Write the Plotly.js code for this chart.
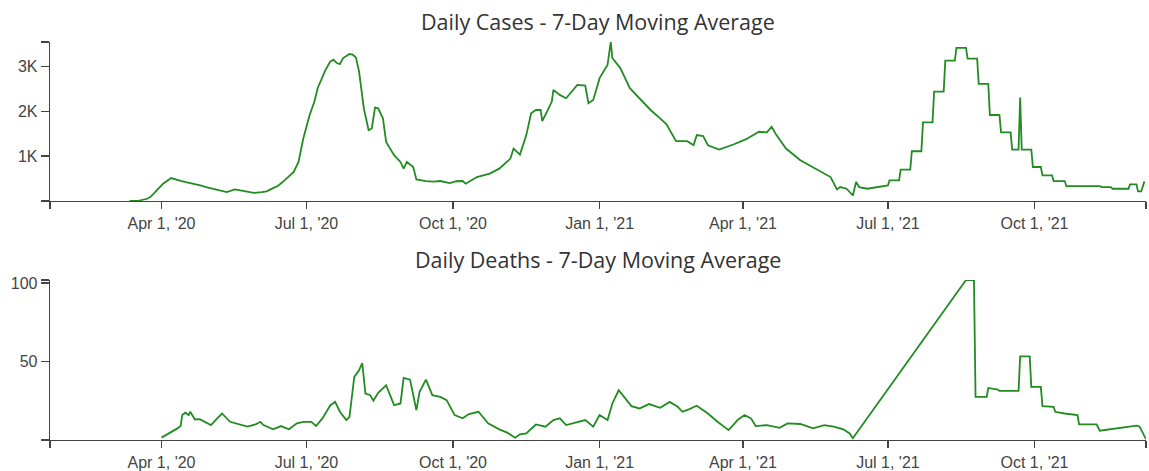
<!DOCTYPE html>
<html><head><meta charset="utf-8">
<script src="https://cdn.plot.ly/plotly-3.0.1.min.js"></script>
<style>html,body{margin:0;padding:0;background:#fff}#chart{width:1149px;height:471px}</style>
</head><body><div id="chart"></div>
<script>
const caseDates = ['2020-03-12','2020-03-18','2020-03-23','2020-03-25','2020-03-29','2020-04-02','2020-04-07','2020-04-10','2020-04-13','2020-04-17','2020-04-20','2020-04-23','2020-04-26','2020-04-29','2020-05-02','2020-05-06','2020-05-09','2020-05-12','2020-05-17','2020-05-22','2020-05-25','2020-05-29','2020-06-03','2020-06-06','2020-06-10','2020-06-13','2020-06-16','2020-06-19','2020-06-23','2020-06-26','2020-06-29','2020-07-03','2020-07-06','2020-07-08','2020-07-13','2020-07-16','2020-07-18','2020-07-20','2020-07-22','2020-07-24','2020-07-28','2020-07-30','2020-08-01','2020-08-03','2020-08-06','2020-08-09','2020-08-11','2020-08-13','2020-08-15','2020-08-18','2020-08-20','2020-08-25','2020-08-29','2020-08-31','2020-09-02','2020-09-06','2020-09-08','2020-09-14','2020-09-19','2020-09-23','2020-09-29','2020-10-03','2020-10-07','2020-10-09','2020-10-16','2020-10-24','2020-10-30','2020-11-06','2020-11-08','2020-11-12','2020-11-16','2020-11-19','2020-11-22','2020-11-25','2020-11-26','2020-11-29','2020-12-02','2020-12-03','2020-12-07','2020-12-11','2020-12-18','2020-12-23','2020-12-25','2020-12-28','2021-01-01','2021-01-06','2021-01-08','2021-01-09','2021-01-14','2021-01-20','2021-01-27','2021-02-02','2021-02-08','2021-02-12','2021-02-18','2021-02-25','2021-03-01','2021-03-03','2021-03-07','2021-03-10','2021-03-17','2021-03-26','2021-04-03','2021-04-11','2021-04-16','2021-04-19','2021-04-22','2021-04-28','2021-05-07','2021-05-15','2021-05-21','2021-05-26','2021-05-30','2021-06-01','2021-06-05','2021-06-09','2021-06-11','2021-06-13','2021-06-18','2021-06-25','2021-07-01','2021-07-02','2021-07-08','2021-07-09','2021-07-15','2021-07-16','2021-07-22','2021-07-23','2021-07-29','2021-07-30','2021-08-05','2021-08-06','2021-08-12','2021-08-13','2021-08-19','2021-08-20','2021-08-26','2021-08-27','2021-09-02','2021-09-03','2021-09-09','2021-09-10','2021-09-16','2021-09-17','2021-09-21','2021-09-22','2021-09-23','2021-09-29','2021-09-30','2021-10-05','2021-10-06','2021-10-12','2021-10-13','2021-10-20','2021-10-21','2021-11-11','2021-11-12','2021-11-18','2021-11-19','2021-11-29','2021-11-30','2021-12-04','2021-12-05','2021-12-07','2021-12-09'];
const caseValues = [0,10,50,86,235,385,512,474,450,415,395,370,340,310,285,258,240,198,258,220,200,183,198,215,288,335,422,520,646,870,1393,1916,2215,2514,2925,3111,3149,3074,3051,3186,3275,3260,3200,2887,2065,1580,1617,2080,2065,1841,1318,1020,870,721,870,758,482,445,430,445,400,440,445,385,534,609,721,945,1169,1035,1468,1953,2028,2028,1782,1991,2215,2476,2364,2290,2588,2573,2178,2252,2738,3036,3543,3186,2962,2514,2252,2028,1841,1707,1333,1333,1243,1468,1445,1243,1147,1259,1378,1543,1528,1655,1468,1169,908,758,646,534,258,310,273,123,422,310,273,310,347,459,459,698,698,1109,1109,1752,1752,2439,2439,3126,3126,3410,3410,3171,3171,2611,2611,1916,1916,1528,1528,1147,1147,2304,1147,1147,758,758,571,571,445,445,332,332,310,310,273,273,370,370,213,213,437];

const deathDates = ['2020-04-01','2020-04-06','2020-04-11','2020-04-13','2020-04-14','2020-04-16','2020-04-18','2020-04-19','2020-04-22','2020-04-25','2020-04-28','2020-05-02','2020-05-06','2020-05-09','2020-05-14','2020-05-20','2020-05-25','2020-05-30','2020-06-02','2020-06-04','2020-06-10','2020-06-15','2020-06-20','2020-06-25','2020-06-29','2020-07-04','2020-07-07','2020-07-11','2020-07-16','2020-07-19','2020-07-22','2020-07-26','2020-07-28','2020-07-31','2020-08-03','2020-08-05','2020-08-07','2020-08-10','2020-08-12','2020-08-15','2020-08-20','2020-08-25','2020-08-29','2020-08-31','2020-09-04','2020-09-08','2020-09-10','2020-09-14','2020-09-18','2020-09-23','2020-09-27','2020-10-02','2020-10-07','2020-10-11','2020-10-17','2020-10-23','2020-10-30','2020-11-04','2020-11-09','2020-11-12','2020-11-16','2020-11-22','2020-11-28','2020-12-03','2020-12-07','2020-12-11','2020-12-18','2020-12-23','2020-12-28','2021-01-01','2021-01-06','2021-01-09','2021-01-13','2021-01-17','2021-01-21','2021-01-26','2021-02-01','2021-02-08','2021-02-14','2021-02-19','2021-02-22','2021-02-26','2021-03-03','2021-03-10','2021-03-16','2021-03-23','2021-03-29','2021-04-02','2021-04-06','2021-04-09','2021-04-16','2021-04-24','2021-04-29','2021-05-07','2021-05-15','2021-05-22','2021-05-28','2021-06-03','2021-06-07','2021-06-09','2021-08-19','2021-08-24','2021-08-25','2021-09-01','2021-09-02','2021-09-08','2021-09-09','2021-09-21','2021-09-22','2021-09-28','2021-09-29','2021-10-05','2021-10-06','2021-10-13','2021-10-14','2021-10-20','2021-10-28','2021-10-29','2021-11-09','2021-11-11','2021-11-18','2021-11-25','2021-12-04','2021-12-06','2021-12-10'];
const deathValues = [1.5,4.2,7.4,8.9,15.9,17.4,15.9,18,13.1,13.3,11.6,9.5,13.8,16.9,11.6,9.9,8.5,9.9,11.6,9.5,6.8,8.9,6.8,10.6,11.6,11.6,8.9,13.8,22.2,24.3,18,12.7,14.8,40.2,44.4,49.1,29.6,28.6,25,30.1,34.9,22.2,23.3,39.6,38.5,19,30.7,38.5,28.6,27.5,25.4,15.9,13.8,16.5,18,10.6,6.8,4.7,1.5,3.6,4.2,9.9,8.5,12.7,13.8,9.5,11.6,12.7,8.5,15.9,12.7,23.3,31.7,26.5,21.6,20.1,22.9,20.5,24.3,21.2,18,19.5,21.8,16.9,11.6,6.3,13.1,15.9,13.8,8.9,9.5,7.8,10.6,10.2,7.4,9.5,8.5,6.8,4.2,1.1,102,102,27.5,27.5,33.2,32.2,31.3,31.3,53.3,53.3,33.9,33.9,21.6,21.2,18,16.9,15.9,9.9,9.9,5.9,6.8,8,9.1,8.5,0.5];

const xRange = ['2020-01-22','2021-12-10'];
const xTickVals = ['2020-04-01','2020-07-01','2020-10-01','2021-01-01','2021-04-01','2021-07-01','2021-10-01'];
const xTickText = ["Apr 1, '20","Jul 1, '20","Oct 1, '20","Jan 1, '21","Apr 1, '21","Jul 1, '21","Oct 1, '21"];
const caseTickVals = [1000,2000,3000];
const caseTickText = ['1K','2K','3K'];
const deathTickVals = [50,100];
const deathTickText = ['50','100'];
const titles = ['Daily Cases - 7-Day Moving Average','Daily Deaths - 7-Day Moving Average'];

const caseMax = Math.max(...caseValues);
const deathMax = Math.max(...deathValues);

const lineStyle = {color:'#228B22', width:1.8};
const axisCol = '#444';
const tickFont = {family:'Liberation Sans, Arial, sans-serif', size:16, color:'#444'};

function xAxis(anchor){
  return {anchor:anchor, type:'date', range:xRange,
    tickvals:[xRange[0]].concat(xTickVals,[xRange[1]]),
    ticktext:[''].concat(xTickText,['']),
    ticks:'outside', ticklen:7, tickwidth:1.3, tickcolor:axisCol,
    showline:true, linecolor:axisCol, linewidth:1.3,
    showgrid:false, zeroline:false, tickfont:tickFont, fixedrange:true};
}
function yAxis(domain, max, vals, text){
  return {domain:domain, range:[0,max],
    tickvals:[0].concat(vals,[max]), ticktext:[''].concat(text,['']),
    ticks:'outside', ticklen:8, tickwidth:1.3, tickcolor:axisCol,
    showline:true, linecolor:axisCol, linewidth:1.3,
    showgrid:false, zeroline:false, tickfont:tickFont, fixedrange:true};
}

const data = [
  {x:caseDates, y:caseValues, type:'scatter', mode:'lines', line:lineStyle, xaxis:'x', yaxis:'y', hoverinfo:'x+y'},
  {x:deathDates, y:deathValues, type:'scatter', mode:'lines', line:lineStyle, xaxis:'x2', yaxis:'y2', hoverinfo:'x+y'}
];

const titleFont = {family:'Open Sans, Noto Sans, sans-serif', size:21.5, color:'#333'};
const layout = {
  width:1149, height:471,
  margin:{l:50, r:3, t:42, b:31},
  paper_bgcolor:'#fff', plot_bgcolor:'#fff',
  showlegend:false,
  xaxis:xAxis('y'),
  xaxis2:xAxis('y2'),
  yaxis:yAxis([0.6005,1], caseMax, caseTickVals, caseTickText),
  yaxis2:yAxis([0,0.402], deathMax, deathTickVals, deathTickText),
  annotations:[
    {text:titles[0], xref:'paper', yref:'paper', x:0.5, y:1.052, xanchor:'center', yanchor:'middle', showarrow:false, font:titleFont},
    {text:titles[1], xref:'paper', yref:'paper', x:0.5, y:0.454, xanchor:'center', yanchor:'middle', showarrow:false, font:titleFont}
  ]
};
Plotly.newPlot('chart', data, layout, {displayModeBar:false, staticPlot:true});
</script>
</body></html>
